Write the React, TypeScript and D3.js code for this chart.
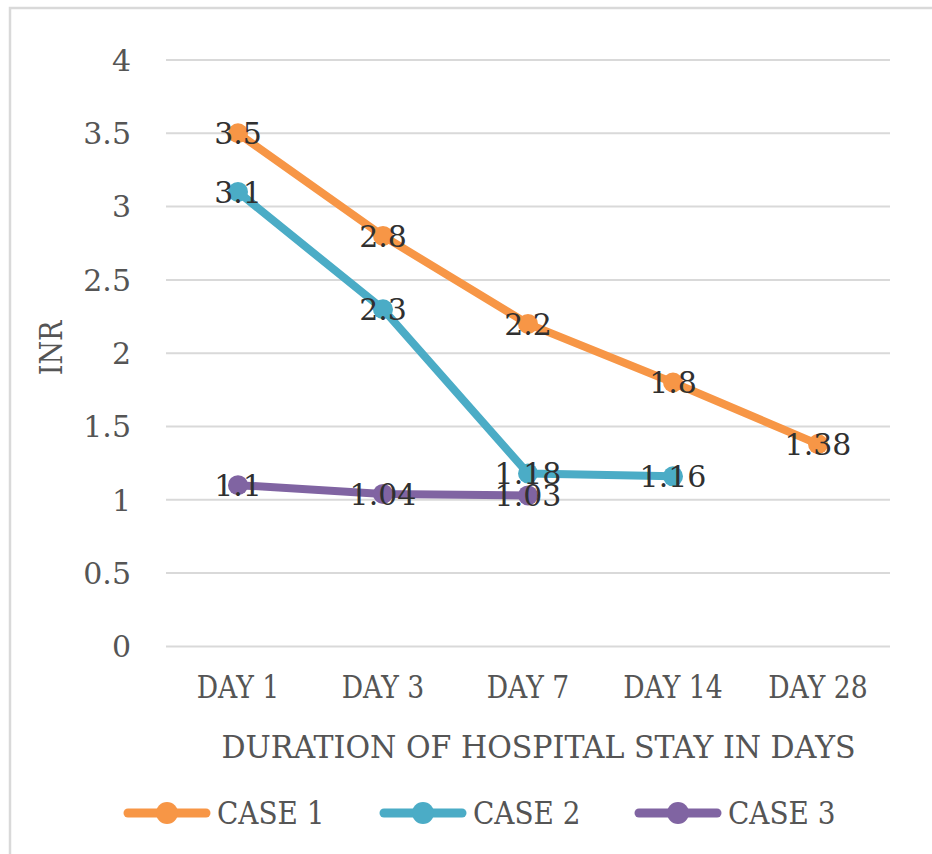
import React from "react";
import * as d3 from "d3";

// INR readings per day of hospital stay
const days = ["DAY 1", "DAY 3", "DAY 7", "DAY 14", "DAY 28"];
const case1 = [3.5, 2.8, 2.2, 1.8, 1.38];
const case2 = [3.1, 2.3, 1.18, 1.16];
const case3 = [1.1, 1.04, 1.03];
const seriesNames = ["CASE 1", "CASE 2", "CASE 3"];
const seriesColors = ["#F79646", "#4BACC6", "#8064A2"];
const yTicks = [0, 0.5, 1, 1.5, 2, 2.5, 3, 3.5, 4];

const W = 932;
const H = 854;
const FONT = "'DejaVu Serif', serif";

export default function App() {
  const x = d3.scaleBand<string>().domain(days).range([165.5, 890.5]);
  const y = d3.scaleLinear().domain([0, 4]).range([646.4, 60]);
  const cx = (i: number) => (x(days[i]) as number) + x.bandwidth() / 2;

  const series = [case1, case2, case3].map((vals, k) => ({
    name: seriesNames[k],
    color: seriesColors[k],
    points: vals.map((v, i) => ({ v, px: cx(i), py: y(v) })),
  }));

  const line = d3
    .line<{ px: number; py: number }>()
    .x((d) => d.px)
    .y((d) => d.py);

  const legendX = [124, 380, 635];

  return (
    <svg
      width={W}
      height={H}
      style={{ position: "absolute", left: 0, top: 0, background: "#fff" }}
      fontFamily={FONT}
    >
      {/* chart frame */}
      <rect x={10} y={8} width={940} height={870} fill="#fff" stroke="#d9d9d9" strokeWidth={2.5} />

      {/* gridlines */}
      {yTicks.map((t) => (
        <line key={t} x1={166} x2={890} y1={y(t)} y2={y(t)} stroke="#d9d9d9" strokeWidth={2} />
      ))}

      {/* y tick labels */}
      {yTicks.map((t) => (
        <text
          key={"yl" + t}
          x={131}
          y={y(t)}
          dy="0.36em"
          textAnchor="end"
          fontSize={30}
          fill="#555555"
        >
          {String(t)}
        </text>
      ))}

      {/* y axis title */}
      <g transform={`translate(62,348) rotate(-90) scale(0.87,1)`}>
        <text x={0} y={0} textAnchor="middle" fontSize={31} fill="#555555">
          INR
        </text>
      </g>

      {/* x tick labels */}
      {days.map((d, i) => (
        <g key={d} transform={`translate(${cx(i)},698) scale(0.86,1)`}>
          <text x={0} y={0} textAnchor="middle" fontSize={31} fill="#555555">
            {d}
          </text>
        </g>
      ))}

      {/* x axis title */}
      <g transform={`translate(538.5,758) scale(0.97,1)`}>
        <text x={0} y={0} textAnchor="middle" fontSize={31} fill="#555555">
          DURATION OF HOSPITAL STAY IN DAYS
        </text>
      </g>

      {/* series lines and markers */}
      {series.map((s) => (
        <g key={s.name}>
          <path
            d={line(s.points) || ""}
            fill="none"
            stroke={s.color}
            strokeWidth={8}
            strokeLinejoin="round"
            strokeLinecap="round"
          />
          {s.points.map((p, i) => (
            <circle key={i} cx={p.px} cy={p.py} r={10} fill={s.color} />
          ))}
        </g>
      ))}

      {/* data labels */}
      {series.map((s) =>
        s.points.map((p, i) => (
          <text
            key={s.name + "l" + i}
            x={p.px}
            y={p.py}
            dy="0.36em"
            textAnchor="middle"
            fontSize={30}
            fill="#303030"
          >
            {String(p.v)}
          </text>
        ))
      )}

      {/* legend */}
      {series.map((s, k) => (
        <g key={"lg" + s.name} transform={`translate(${legendX[k]},813)`}>
          <line x1={4} x2={82} y1={0} y2={0} stroke={s.color} strokeWidth={9} strokeLinecap="round" />
          <circle cx={43} cy={0} r={11} fill={s.color} />
          <g transform={`translate(93,11) scale(0.9,1)`}>
            <text x={0} y={0} fontSize={31} fill="#555555">
              {s.name}
            </text>
          </g>
        </g>
      ))}
    </svg>
  );
}
